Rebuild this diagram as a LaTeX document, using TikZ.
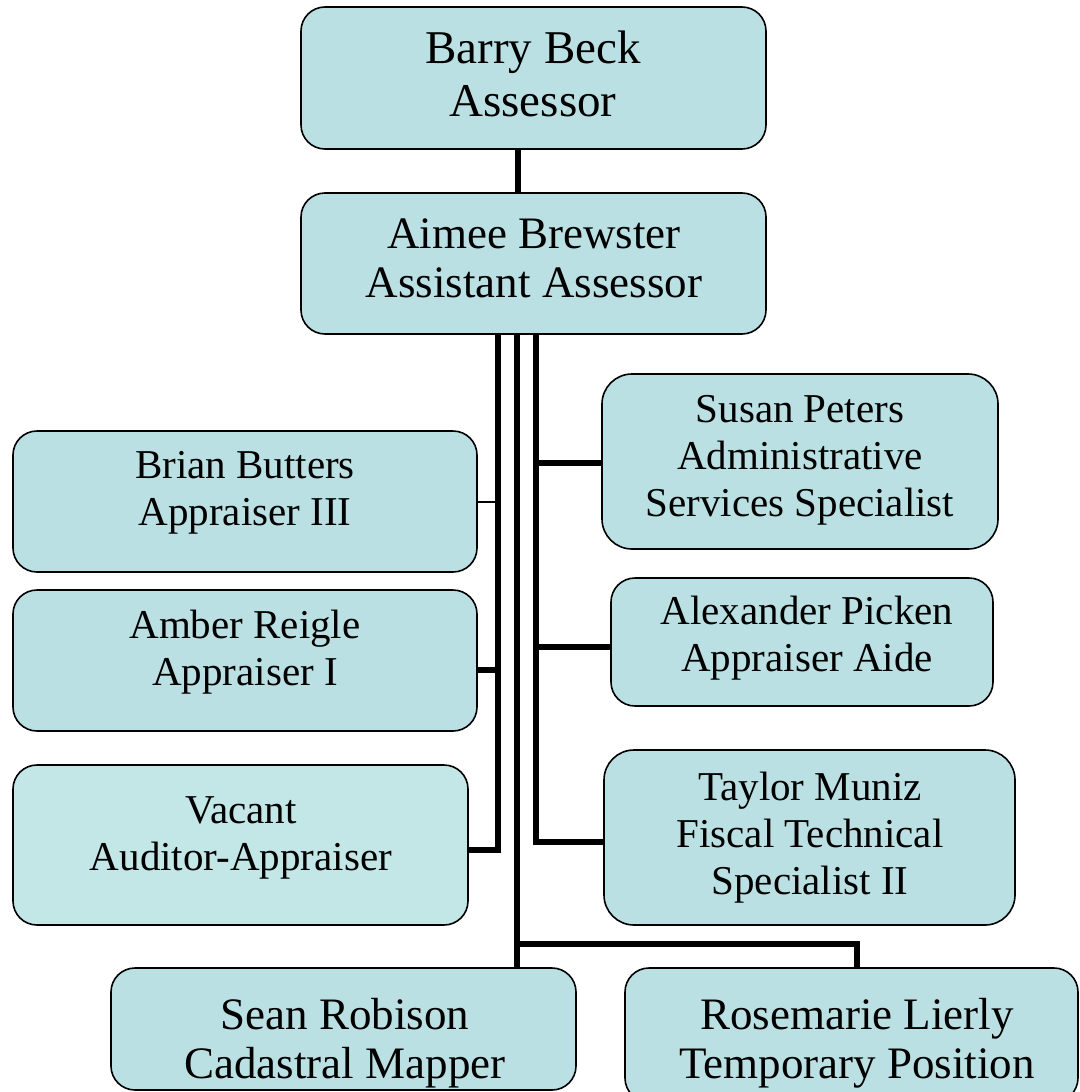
\documentclass[tikz,border=0pt]{standalone}
\usepackage{fontspec}
\setmainfont{Liberation Serif}
\definecolor{boxfill}{HTML}{BBE0E3}
\definecolor{boxfilltwo}{HTML}{C3E6E6}
\begin{document}
\begin{tikzpicture}[x=1pt,y=-1pt,
  orgbox/.style={draw=black, line width=1.6pt, fill=boxfill, rounded corners=24pt,
    inner sep=0pt, outer sep=0pt, anchor=center},
  lbl/.style={align=center, inner sep=0pt, anchor=center, text=black},
  big/.style={font=\fontsize{47}{53}\selectfont},
  mid/.style={font=\fontsize{45}{49}\selectfont},
  small/.style={font=\fontsize{41}{47}\selectfont},
  thick link/.style={line width=6pt, draw=black},
  thin link/.style={line width=1.8pt, draw=black}]
\useasboundingbox (0,0) rectangle (1079,1092);
% boxes
\node[orgbox, minimum width=465pt, minimum height=142pt] (beck) at (533.5,78) {};
\node[orgbox, minimum width=465pt, minimum height=141pt] (aimee) at (533.5,263.5) {};
\node[orgbox, minimum width=464pt, minimum height=141pt] (brian) at (245,501.5) {};
\node[orgbox, minimum width=464pt, minimum height=141pt] (amber) at (245,660.5) {};
\node[orgbox, fill=boxfilltwo, minimum width=455pt, minimum height=160pt] (vacant) at (240.5,845) {};
\node[orgbox, rounded corners=30pt, minimum width=396pt, minimum height=175pt] (susan) at (800,461.5) {};
\node[orgbox, minimum width=382pt, minimum height=128pt] (alex) at (802,642) {};
\node[orgbox, rounded corners=30pt, minimum width=411pt, minimum height=175pt] (taylor) at (809.5,837.5) {};
\node[orgbox, minimum width=465pt, minimum height=122pt] (sean) at (343.5,1029) {};
\node[orgbox, minimum width=453pt, minimum height=134pt] (rose) at (851.5,1035) {};
% labels
\node[lbl, big] (beckt) at (533,74) {Barry Beck\\Assessor};
\node[lbl, mid] (aimeet) at (534,258) {Aimee Brewster\\Assistant Assessor};
\node[lbl, small] (briant) at (245,493) {Brian Butters\\Appraiser III};
\node[lbl, small] (ambert) at (245,652) {Amber Reigle\\Appraiser I};
\node[lbl, small] (vacantt) at (241,838) {Vacant\\Auditor-Appraiser};
\node[lbl, small] (susant) at (800,460) {Susan Peters\\Administrative\\Services Specialist};
\node[lbl, small] (alext) at (807,638) {Alexander Picken\\Appraiser Aide};
\node[lbl, small] (taylort) at (810,838) {Taylor Muniz\\Fiscal Technical\\Specialist II};
\node[lbl, mid] (seant) at (345,1043) {Sean Robison\\Cadastral Mapper};
\node[lbl, mid] (roset) at (857,1043) {Rosemarie Lierly\\Temporary Position};
% trunk coordinates
\coordinate (l1) at (498,334);
\coordinate (l2) at (516.5,334);
\coordinate (l3) at (536,334);
\coordinate (bus) at (857,944);
% connectors
\draw[thick link] (beck.south -| 518,0) -- (aimee.north -| 518,0);
\draw[thick link] (l1) |- (amber.east |- 0,670);
\draw[thick link] (l1) |- (vacant.east |- 0,850);
\draw[thin link] (brian.east |- 0,502) -- (l1 |- 0,502);
\draw[thick link] (l3) |- (susan.west |- 0,463);
\draw[thick link] (l3) |- (alex.west |- 0,647);
\draw[thick link] (l3) |- (taylor.west |- 0,842);
\draw[thick link] (l2) -- (l2 |- sean.north);
\draw[thick link] (l2 |- bus) -| (rose.north -| bus);
\end{tikzpicture}
\end{document}
